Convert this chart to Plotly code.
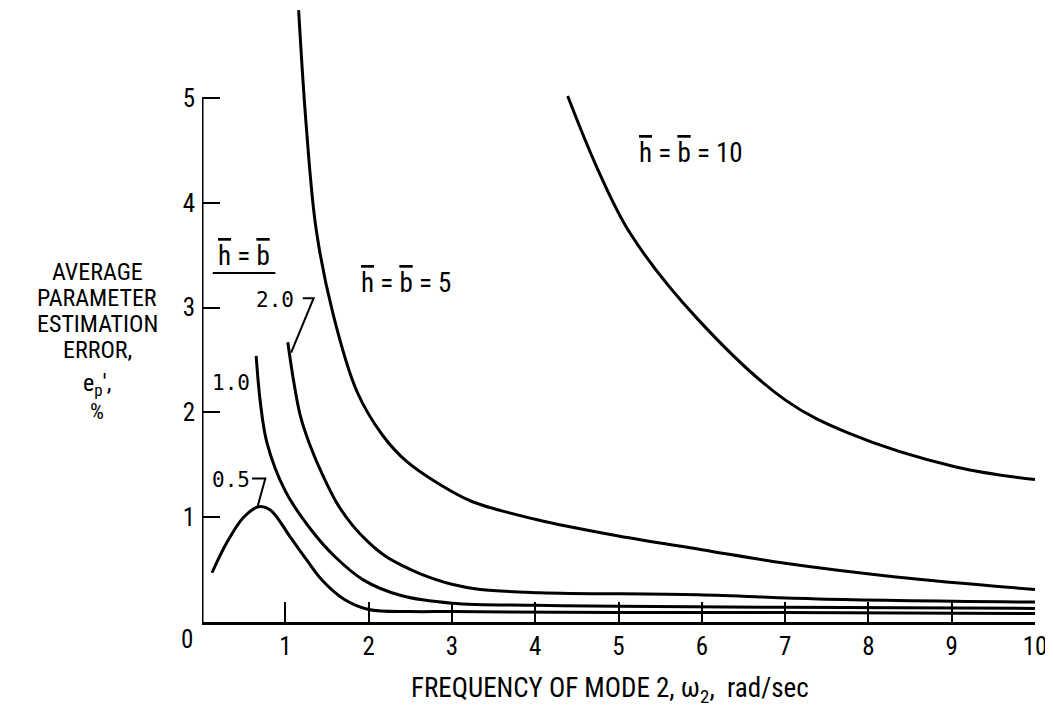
import plotly.graph_objects as go

# curve data (x = omega_2 rad/sec, y = e_p %)
x_05 = [0.12, 0.3, 0.5, 0.68, 0.82, 1.06, 1.25, 1.44, 1.7, 2.0, 2.5, 3.0, 5.0, 7.0, 10.0]
y_05 = [0.47, 0.76, 1.0, 1.10, 1.07, 0.81, 0.60, 0.40, 0.22, 0.12, 0.10, 0.10, 0.09, 0.09, 0.08]

x_10 = [0.65, 0.70, 0.78, 1.0, 1.30, 1.6, 1.94, 2.4, 3.0, 4.0, 5.0, 7.0, 10.0]
y_10 = [2.54, 2.10, 1.71, 1.25, 0.89, 0.62, 0.40, 0.25, 0.18, 0.16, 0.15, 0.14, 0.13]

x_20 = [1.03, 1.1, 1.18, 1.3, 1.45, 1.63, 1.81, 2.0, 2.2, 2.4, 2.62, 3.0, 3.34, 4.05, 5.95, 7.4, 10.0]
y_20 = [2.67, 2.30, 1.97, 1.68, 1.40, 1.12, 0.92, 0.76, 0.63, 0.54, 0.46, 0.36, 0.31, 0.28, 0.26, 0.22, 0.19]

x_5 = [1.16, 1.25, 1.37, 1.57, 1.86, 2.17, 2.46, 2.86, 3.24, 4.0, 5.0, 6.0, 7.0, 8.33, 10.0]
y_5 = [5.84, 4.75, 3.75, 2.95, 2.20, 1.78, 1.53, 1.31, 1.15, 0.98, 0.82, 0.69, 0.56, 0.43, 0.31]

x_10b = [4.39, 4.74, 5.14, 5.94, 7.0, 7.77, 9.05, 10.0]
y_10b = [5.02, 4.34, 3.71, 2.90, 2.12, 1.80, 1.48, 1.36]

x_ticks = [1, 2, 3, 4, 5, 6, 7, 8, 9, 10]
y_ticks = [1, 2, 3, 4, 5]

ytitle_lines = ["AVERAGE", "PARAMETER", "ESTIMATION", "ERROR,",
                "e<sub>p</sub>',", "<span style='font-size:22px'>%</span>"]

FONT = "Liberation Sans Narrow, Roboto Condensed, Liberation Sans, sans-serif"
MONO = "DejaVu Sans Mono, Liberation Mono, monospace"
OV = "<span style='text-decoration:overline'>{}</span>"
h_eq_b = OV.format("h") + " = " + OV.format("b")

fig = go.Figure()
for xs, ys in [(x_05, y_05), (x_10, y_10), (x_20, y_20), (x_5, y_5), (x_10b, y_10b)]:
    fig.add_trace(go.Scatter(x=xs, y=ys, mode="lines",
                             line=dict(color="black", width=3, shape="spline", smoothing=1.0),
                             showlegend=False, hoverinfo="skip"))

# leader lines for 2.0 and 0.5 labels
fig.add_trace(go.Scatter(x=[1.21, 1.34, 1.07], y=[3.09, 3.09, 2.57], mode="lines",
                         line=dict(color="black", width=2), showlegend=False, hoverinfo="skip"))
fig.add_trace(go.Scatter(x=[0.60, 0.76, 0.67], y=[1.37, 1.37, 1.11], mode="lines",
                         line=dict(color="black", width=2), showlegend=False, hoverinfo="skip"))

annotations = [
    dict(x=0.50, y=3.49, text=h_eq_b, font=dict(family=FONT, size=27)),
    dict(x=0.88, y=3.07, text="2.0", font=dict(family=MONO, size=21)),
    dict(x=0.35, y=2.28, text="1.0", font=dict(family=MONO, size=21)),
    dict(x=0.35, y=1.36, text="0.5", font=dict(family=MONO, size=21)),
    dict(x=2.45, y=3.24, text=h_eq_b + " = 5", font=dict(family=FONT, size=27)),
    dict(x=5.87, y=4.48, text=h_eq_b + " = 10", font=dict(family=FONT, size=27)),
]
for a in annotations:
    a.update(xref="x", yref="y", showarrow=False)

# y-axis title, one annotation per line
for txt, yp in zip(ytitle_lines, [0.570, 0.528, 0.485, 0.443, 0.386, 0.343]):
    annotations.append(dict(xref="paper", yref="paper", x=-0.126, y=yp, text=txt,
                            xanchor="center", yanchor="middle", showarrow=False,
                            font=dict(family=FONT, size=24, color="black")))

annotations += [
    dict(xref="paper", yref="paper", x=-0.018, y=-0.029, text="0", showarrow=False,
         xanchor="center", yanchor="middle", font=dict(family=FONT, size=25, color="black")),
    dict(xref="paper", yref="paper", x=0.49, y=-0.111, xanchor="center", yanchor="middle",
         text="FREQUENCY OF MODE 2, \u03c9<sub>2</sub>,  rad/sec",
         showarrow=False, font=dict(family=FONT, size=27, color="black")),
]

# underline under the h = b heading, and the y-axis spine that stops at 5
shapes = [
    dict(type="line", xref="x", yref="y", x0=0.13, x1=0.88, y0=3.33, y1=3.33,
         line=dict(color="black", width=2)),
    dict(type="line", xref="x", yref="y", x0=0, x1=0, y0=0, y1=5,
         line=dict(color="black", width=3)),
]

fig.update_layout(
    width=1053, height=709,
    paper_bgcolor="white", plot_bgcolor="white",
    margin=dict(l=194, r=26, t=0, b=95),
    font=dict(family=FONT, size=25, color="black"),
    annotations=annotations,
    shapes=shapes,
)
fig.update_xaxes(range=[0, 10], showgrid=False, zeroline=False, showline=True,
                 linecolor="black", linewidth=3, ticks="inside", ticklen=20,
                 tickwidth=2, tickcolor="black", tickvals=x_ticks, automargin=False)
fig.update_yaxes(range=[0, 5.86], showgrid=False, zeroline=False, showline=False,
                 ticks="inside", ticklen=18, tickwidth=2, tickcolor="black",
                 tickvals=y_ticks, ticklabelstandoff=6, automargin=False)

fig.write_html("out.html")
